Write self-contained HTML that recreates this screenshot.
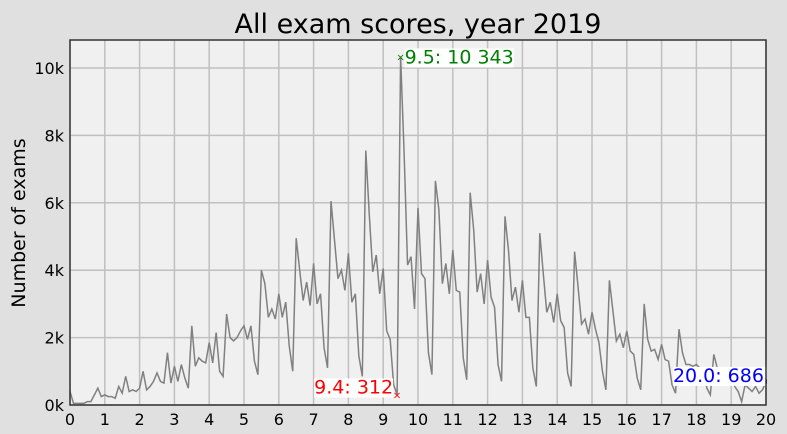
<!DOCTYPE html>
<html><head><meta charset="utf-8"><style>
body{margin:0;background:#e0e0e0;}
svg{display:block;font-family:"DejaVu Sans","Liberation Sans",sans-serif;}
</style></head><body>
<svg id="c" width="787" height="434">
<rect width="787" height="434" fill="#e0e0e0"/>
<text x="418" y="33" font-size="27" text-anchor="middle" fill="#000">All exam scores, year 2019</text>
<text transform="translate(25,223) rotate(-90)" font-size="19" text-anchor="middle">Number of exams</text>
<g id="plot"></g>
</svg>
<script>
const values = [
0.4,0.05,0.05,0.05,0.05,0.1,0.1,0.3,0.5,0.25,
0.3,0.25,0.25,0.2,0.55,0.35,0.85,0.4,0.45,0.4,
0.5,1.0,0.45,0.55,0.7,0.95,0.7,0.65,1.55,0.65,
1.15,0.7,1.2,0.8,0.5,2.35,1.15,1.4,1.3,1.25,
1.85,1.25,2.15,1.0,0.85,2.7,2.0,1.9,2.0,2.2,
2.35,1.95,2.35,1.3,0.9,4.0,3.6,2.6,2.85,2.55,
3.3,2.6,3.05,1.75,1.0,4.95,4.0,3.1,3.65,2.95,
4.2,3.0,3.3,1.7,1.1,6.05,4.9,3.75,4.0,3.4,
4.5,3.05,3.3,1.45,0.85,7.55,5.65,3.95,4.45,3.3,
4.05,2.2,1.95,0.6,0.312,10.343,7.5,4.15,4.4,2.85,
5.85,3.9,3.75,1.55,0.9,6.65,5.8,3.6,4.2,3.3,
4.6,3.4,3.35,1.4,0.75,6.3,5.2,3.35,3.9,3.0,
4.3,3.2,2.9,1.2,0.7,5.6,4.6,3.1,3.5,2.75,
3.7,2.6,2.6,1.1,0.55,5.1,3.9,2.75,3.05,2.45,
3.3,2.5,2.3,0.95,0.55,4.55,3.5,2.4,2.55,2.1,
2.75,2.25,1.85,1.0,0.45,3.7,2.8,1.9,2.1,1.7,
2.2,1.6,1.5,0.8,0.45,3.0,1.95,1.6,1.65,1.35,
1.8,1.35,1.3,0.6,0.35,2.25,1.55,1.2,1.2,1.15,
1.2,1.1,1.05,0.5,0.3,1.5,1.1,1.05,0.95,0.8,
0.9,0.55,0.4,0.1,0.6,0.5,0.4,0.55,0.35,0.45,
0.686];
const xTicks = [0,1,2,3,4,5,6,7,8,9,10,11,12,13,14,15,16,17,18,19,20];
const yTicks = [0,2,4,6,8,10];
const yTickLabels = ["0k","2k","4k","6k","8k","10k"];
const annMax = {i:95, label:"9.5: 10 343"};
const annMin = {i:94, label:"9.4: 312"};
const annLast = {i:200, label:"20.0: 686,"};

const L=70,R=766,T=40,B=405;
const xs=v=>L+(v/20)*(R-L);
const ys=v=>B-v*33.7;
const NS="http://www.w3.org/2000/svg";
const g=document.getElementById('plot');
function mk(t,a,p){const e=document.createElementNS(NS,t);for(const k in a)e.setAttribute(k,a[k]);(p||g).appendChild(e);return e;}
const bg=mk('rect',{x:L,y:T,width:R-L,height:B-T,fill:'#f0f0f0'});


xTicks.forEach(t=>{
 const l=mk('line',{x1:xs(t),x2:xs(t),y1:T,y2:B,stroke:'#c0c0c0','stroke-width':1.5});
 
 
 const tx=mk('text',{x:xs(t),y:B+20,'font-size':16,'text-anchor':'middle'});tx.textContent=t;
 
 
});
yTicks.forEach((t,i)=>{
 const l=mk('line',{x1:L,x2:R,y1:ys(t),y2:ys(t),stroke:'#c0c0c0','stroke-width':1.5});
 
 
 const tx=mk('text',{x:L-6,y:ys(t)+6,'font-size':16,'text-anchor':'end'});tx.textContent=yTickLabels[i];
 
 
});
const pts=values.map((v,i)=>xs(i/10)+','+ys(v)).join(' ');
const line=mk('polyline',{points:pts,fill:'none',stroke:'#808080','stroke-width':1.5});


function ann(a,color,anchor,dx,dy,name){
 const x=xs(a.i/10),y=ys(values[a.i]);
 const m=mk('text',{x:x,y:y+4,'font-size':10,'text-anchor':'middle',fill:color});m.textContent='×';
 
 
 const t=mk('text',{x:x+dx,y:y+dy,'font-size':19,'text-anchor':anchor,fill:color});t.textContent=a.label;
 const bb=t.getBBox();
 const r=mk('rect',{x:bb.x,y:bb.y+2,width:bb.width,height:bb.height-3,fill:'#fff'});
 g.insertBefore(r,t);
 
 
}
ann(annMax,'#008000','start',4,7,'max-annotation');
ann(annMin,'#ff0000','end',-4,-1,'min-annotation');
ann(annLast,'#0000ff','end',4,0,'last-annotation');
const cover=mk('rect',{x:R+1,y:T-2,width:30,height:B-T+4,fill:'#e0e0e0'});
const fr=mk('rect',{x:L,y:T,width:R-L,height:B-T,fill:'none',stroke:'#333','stroke-width':1.5});


</script>
</body></html>
